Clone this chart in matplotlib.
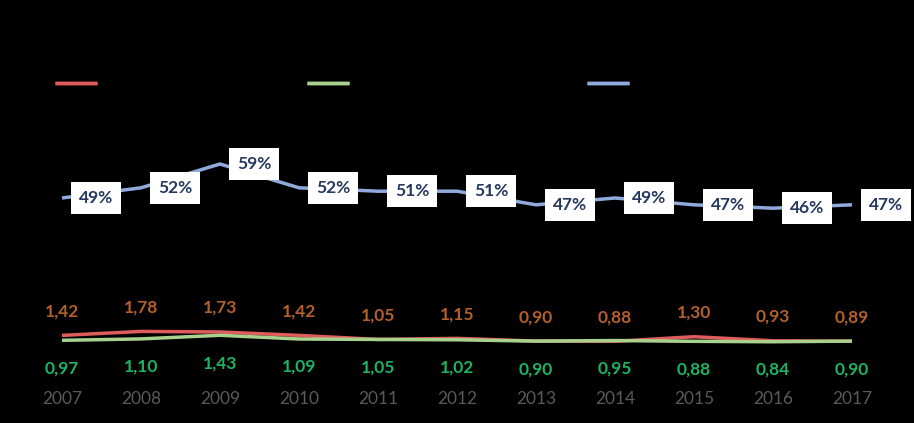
import matplotlib
matplotlib.use("Agg")
import matplotlib.pyplot as plt
import matplotlib.transforms as mtrans

years = [2007, 2008, 2009, 2010, 2011, 2012, 2013, 2014, 2015, 2016, 2017]
red_vals = [1.42, 1.78, 1.73, 1.42, 1.05, 1.15, 0.90, 0.88, 1.30, 0.93, 0.89]
green_vals = [0.97, 1.10, 1.43, 1.09, 1.05, 1.02, 0.90, 0.95, 0.88, 0.84, 0.90]
blue_pct = [49, 52, 59, 52, 51, 51, 47, 49, 47, 46, 47]

RED = "#E05C5C"
GREEN = "#A9D18E"
BLUE = "#8FAADC"
RED_TXT = "#B3602A"
GREEN_TXT = "#1DB463"
NAVY = "#25385E"
GRAY = "#5A5A5A"

plt.rcParams["font.family"] = ["Lato", "DejaVu Sans"]

W, H = 914, 423
fig = plt.figure(figsize=(W / 100, H / 100), dpi=100, facecolor="black")
ax = fig.add_axes([0, 0, 1, 1], facecolor="black")
ax2 = ax.twinx()
for a in (ax, ax2):
    a.set_axis_off()

x0 = 2007 - 62 / 79
ax.set_xlim(x0, x0 + W / 79)
ax.set_ylim((351 - 423) / 11, 351 / 11)
ax2.set_ylim(49 + (198 - 423) / 3.4, 49 + 198 / 3.4)

l1, = ax.plot(years, red_vals, color=RED, lw=2.5, solid_capstyle="butt")
l2, = ax.plot(years, green_vals, color=GREEN, lw=2.5, solid_capstyle="butt")
l3, = ax2.plot(years, blue_pct, color=BLUE, lw=2.5, solid_capstyle="butt")

for x, v in zip(years, red_vals):
    ax.annotate(f"{v:.2f}".replace(".", ","), (x, v), xytext=(0, 24),
                textcoords="offset pixels", ha="center", va="center",
                color=RED_TXT, fontsize=12.5, fontweight="bold")
for x, v in zip(years, green_vals):
    ax.annotate(f"{v:.2f}".replace(".", ","), (x, v), xytext=(0, -28),
                textcoords="offset pixels", ha="center", va="center",
                color=GREEN_TXT, fontsize=12.5, fontweight="bold")
for x, v in zip(years, blue_pct):
    ax2.annotate(f"{v}%", (x, v), xytext=(34, 0),
                 textcoords="offset pixels", ha="center", va="center",
                 color=NAVY, fontsize=12.5, fontweight="bold",
                 bbox=dict(boxstyle="square,pad=0.45", fc="white", ec="none"))

trans = mtrans.blended_transform_factory(ax.transData, ax.transAxes)
for x in years:
    ax.text(x, 1 - 399 / H, str(x), transform=trans, ha="center", va="center",
            color=GRAY, fontsize=12.5)

legend_x = [55, 307, 587]
for handle, lx in zip([l1, l2, l3], legend_x):
    leg = fig.legend([handle], [""], frameon=False,
                     loc="center left", bbox_to_anchor=(lx / W, 1 - 84 / H),
                     borderpad=0, borderaxespad=0, handlelength=2.5,
                     handletextpad=0.0, fontsize=12)
    fig.add_artist(leg)

fig.savefig("out.png", dpi=100, facecolor="black")
